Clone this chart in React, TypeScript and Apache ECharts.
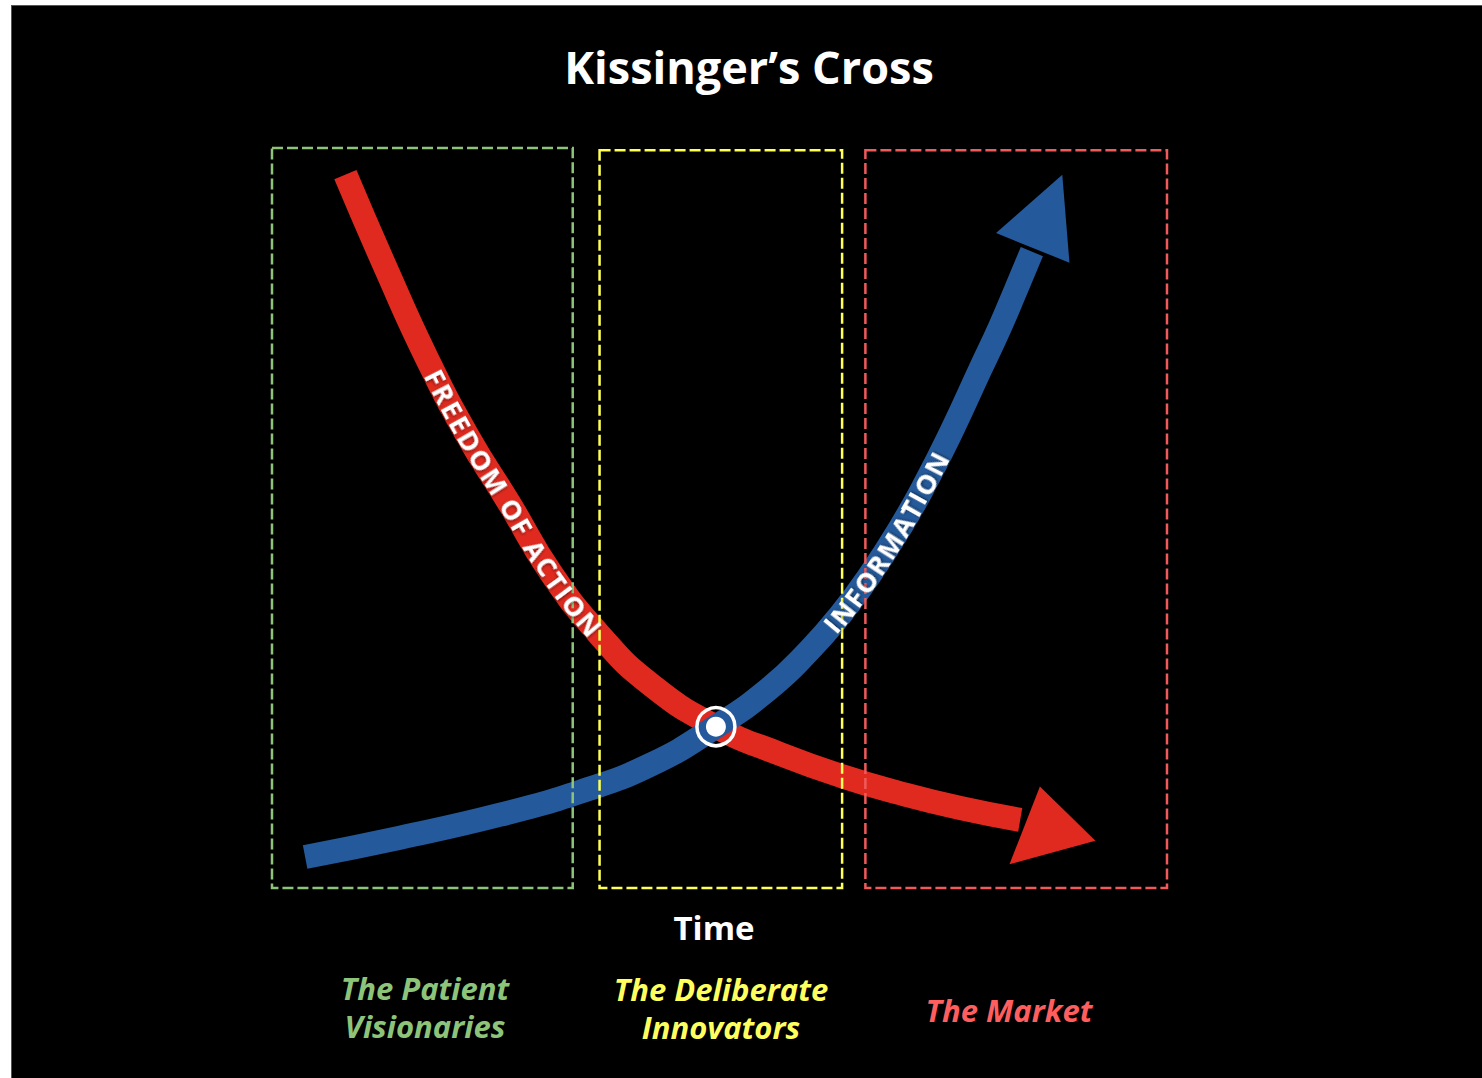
import React, { useEffect, useRef } from "react";
import * as echarts from "echarts";

// ---- data (abstract units: x = time 0..100, y = level 0..100) ----
const redCurve: number[][] = [
  [8.2, 96.4], [12.7, 83.8], [17.3, 71.6], [21.9, 61.0], [26.6, 51.8], [31.1, 42.7],
  [36.6, 34.2], [42.2, 27.6], [49.6, 21.8], [56.8, 18.1], [63.7, 15.1], [70.2, 12.8],
  [76.9, 10.8], [83.6, 9.2],
];
const blueCurve: number[][] = [
  [3.7, 4.2], [14.3, 6.8], [25.5, 9.9], [34.4, 13.0], [42.2, 16.6], [49.6, 21.8],
  [55.6, 27.0], [60.1, 32.2], [63.5, 36.9], [66.8, 42.3], [70.2, 48.7], [73.0, 54.7],
  [76.0, 61.9], [79.1, 70.0], [81.3, 75.7], [83.1, 80.8], [84.9, 86.0],
];
const redArrowHead: number[][] = [[85.8, 13.7], [92.0, 6.4], [82.4, 3.2]];
const blueArrowHead: number[][] = [[80.9, 88.5], [88.3, 96.4], [89.1, 84.5]];
const crossPoint: number[][] = [[49.6, 21.8]];

const zoneNames = ["The Patient\nVisionaries", "The Deliberate\nInnovators", "The Market"];
// [xStart, xEnd, yBottom, yTop]
const zoneBounds: number[][] = [
  [0, 33.6, 0, 100],
  [36.6, 63.7, 0, 99.7],
  [66.3, 100, 0, 99.7],
];
const curveLabels = ["FREEDOM OF ACTION", "INFORMATION"];
// x-range (data units) covered by each curve label
const curveLabelRanges: number[][] = [[18.0, 36.3], [62.2, 74.7]];

const titleText = "Kissinger\u2019s Cross";
const axisLabel = "Time";

// ---- styles ----
const RED = "#E02A1F";
const BLUE = "#245A9B";
const zoneColors = ["#8DC47A", "#FFFF55", "#F05A5A"];
const zoneTextColors = ["#8DC47A", "#FFFF5E", "#FF5E5E"];
const FONT = '"Open Sans", "Noto Sans", sans-serif';

function sampleSpline(pts: number[][], steps = 20): number[][] {
  const out: number[][] = [];
  for (let i = 0; i < pts.length - 1; i++) {
    const p0 = pts[Math.max(i - 1, 0)], p1 = pts[i], p2 = pts[i + 1], p3 = pts[Math.min(i + 2, pts.length - 1)];
    for (let k = 0; k < steps; k++) {
      const t = k / steps, t2 = t * t, t3 = t2 * t;
      const f = (a: number, b: number, c: number, d: number) =>
        0.5 * (2 * b + (-a + c) * t + (2 * a - 5 * b + 4 * c - d) * t2 + (-a + 3 * b - 3 * c + d) * t3);
      out.push([f(p0[0], p1[0], p2[0], p3[0]), f(p0[1], p1[1], p2[1], p3[1])]);
    }
  }
  out.push(pts[pts.length - 1]);
  return out;
}

function textOnPath(text: string, pts: number[][], xStart: number, xEnd: number, fontSize: number) {
  const samples = sampleSpline(pts);
  const cum: number[] = [0];
  for (let i = 1; i < samples.length; i++) {
    const dx = samples[i][0] - samples[i - 1][0], dy = samples[i][1] - samples[i - 1][1];
    cum.push(cum[i - 1] + Math.hypot(dx, dy));
  }
  const sAtX = (x: number) => {
    for (let i = 1; i < samples.length; i++) {
      if (samples[i][0] >= x) {
        const a = samples[i - 1], b = samples[i];
        const t = b[0] === a[0] ? 0 : (x - a[0]) / (b[0] - a[0]);
        return cum[i - 1] + t * (cum[i] - cum[i - 1]);
      }
    }
    return cum[cum.length - 1];
  };
  const pointAt = (s: number) => {
    let i = 1;
    while (i < cum.length - 1 && cum[i] < s) i++;
    const a = samples[i - 1], b = samples[i];
    const seg = cum[i] - cum[i - 1] || 1;
    const t = (s - cum[i - 1]) / seg;
    return [a[0] + (b[0] - a[0]) * t, a[1] + (b[1] - a[1]) * t];
  };
  const font = `bold ${fontSize}px ${FONT}`;
  const ctx = document.createElement("canvas").getContext("2d")!;
  ctx.font = font;
  const chars = text.split("");
  const widths = chars.map((c) => ctx.measureText(c).width);
  const W = widths.reduce((a, b) => a + b, 0);
  const s0 = sAtX(xStart), s1 = sAtX(xEnd);
  const gap = (s1 - s0 - W) / (chars.length - 1);
  const els: any[] = [];
  let cur = s0;
  chars.forEach((c, i) => {
    const sc = cur + widths[i] / 2;
    const p = pointAt(sc);
    const pa = pointAt(sc - 4), pb = pointAt(sc + 4);
    const ang = Math.atan2(pb[1] - pa[1], pb[0] - pa[0]);
    if (c !== " ") {
      els.push({
        type: "text",
        x: p[0],
        y: p[1],
        rotation: -ang,
        z: 100,
        silent: true,
        style: {
          text: c,
          fill: "#ffffff",
          font,
          align: "center",
          verticalAlign: "middle",
          textShadowColor: "rgba(0,0,0,0.55)",
          textShadowBlur: 3,
          textShadowOffsetX: 1,
          textShadowOffsetY: 1,
        },
      });
    }
    cur += widths[i] + gap;
  });
  return els;
}

export default function App() {
  const ref = useRef<HTMLDivElement>(null);

  useEffect(() => {
    if (!ref.current) return;
    const chart = echarts.init(ref.current, null, { renderer: "svg" });
    const arrowHeads = [redArrowHead.flat(), blueArrowHead.flat()];
    const arrowColors = [RED, BLUE];

    chart.setOption({
      animation: false,
      backgroundColor: "transparent",
      grid: { left: 272, top: 148, width: 895, height: 740 },
      xAxis: { type: "value", min: 0, max: 100, show: false },
      yAxis: { type: "value", min: 0, max: 100, show: false },
      series: [
        {
          type: "line",
          data: redCurve,
          smooth: 0.5,
          symbol: "none",
          clip: false,
          silent: true,
          lineStyle: { color: RED, width: 24, cap: "butt" },
          z: 2,
        },
        {
          type: "custom",
          data: arrowHeads,
          clip: false,
          silent: true,
          z: 2,
          renderItem: (params: any, api: any) => {
            const pts = [0, 1, 2].map((k) => api.coord([api.value(2 * k), api.value(2 * k + 1)]));
            return { type: "polygon", shape: { points: pts }, style: { fill: arrowColors[params.dataIndex] } };
          },
        },
        {
          type: "line",
          data: blueCurve,
          smooth: 0.5,
          symbol: "none",
          clip: false,
          silent: true,
          lineStyle: { color: BLUE, width: 24, cap: "butt" },
          z: 3,
        },
        {
          type: "custom",
          data: zoneBounds,
          clip: false,
          silent: true,
          z: 5,
          renderItem: (params: any, api: any) => {
            const p0 = api.coord([api.value(0), api.value(3)]);
            const p1 = api.coord([api.value(1), api.value(2)]);
            return {
              type: "rect",
              shape: { x: p0[0], y: p0[1], width: p1[0] - p0[0], height: p1[1] - p0[1] },
              style: { fill: "none", stroke: zoneColors[params.dataIndex], lineWidth: 2.5, lineDash: [11, 4] },
            };
          },
        },
        {
          type: "scatter",
          data: crossPoint,
          symbol: "circle",
          symbolSize: 38,
          silent: true,
          z: 6,
          itemStyle: { color: "rgba(0,0,0,0)", borderColor: "#ffffff", borderWidth: 3.5, opacity: 1 },
        },
        {
          type: "scatter",
          data: crossPoint,
          symbol: "circle",
          symbolSize: 20,
          silent: true,
          z: 7,
          itemStyle: { color: "#ffffff", opacity: 1 },
        },
      ],
    });

    const toPx = (p: number[]) => chart.convertToPixel({ xAxisIndex: 0, yAxisIndex: 0 }, p) as number[];
    const redPx = redCurve.map(toPx);
    const bluePx = blueCurve.map(toPx);
    const rx = curveLabelRanges[0].map((v) => toPx([v, 0])[0]);
    const bx = curveLabelRanges[1].map((v) => toPx([v, 0])[0]);

    const zoneLabelX = [425, 721, 1009];
    const zoneLabelY = [1007, 1008, 1010];

    const graphic: any[] = [
      {
        type: "text",
        x: 749,
        y: 66,
        z: 100,
        style: { text: titleText, fill: "#ffffff", font: `bold 45px ${FONT}`, align: "center", verticalAlign: "middle" },
      },
      {
        type: "text",
        x: 714,
        y: 927,
        z: 100,
        style: { text: axisLabel, fill: "#ffffff", font: `bold 33px ${FONT}`, align: "center", verticalAlign: "middle" },
      },
      ...zoneNames.map((n, i) => ({
        type: "text",
        x: zoneLabelX[i],
        y: zoneLabelY[i],
        z: 100,
        style: {
          text: n,
          fill: zoneTextColors[i],
          font: `italic bold 31px ${FONT}`,
          lineHeight: 38,
          align: "center",
          verticalAlign: "middle",
        },
      })),
      ...textOnPath(curveLabels[0], redPx, rx[0], rx[1], 27),
      ...textOnPath(curveLabels[1], bluePx, bx[0], bx[1], 27),
    ];
    chart.setOption({ graphic });

    return () => chart.dispose();
  }, []);

  return (
    <div style={{ position: "fixed", left: 0, top: 0, width: 1482, height: 1078, background: "#ffffff", overflow: "hidden" }}>
      <div
        style={{
          position: "absolute",
          left: 11,
          top: 5,
          right: 0,
          bottom: 0,
          background: "#000000",
          borderLeft: "1px solid #555",
          borderTop: "1px solid #555",
        }}
      />
      <div ref={ref} style={{ position: "absolute", left: 0, top: 0, width: 1482, height: 1078 }} />
    </div>
  );
}
